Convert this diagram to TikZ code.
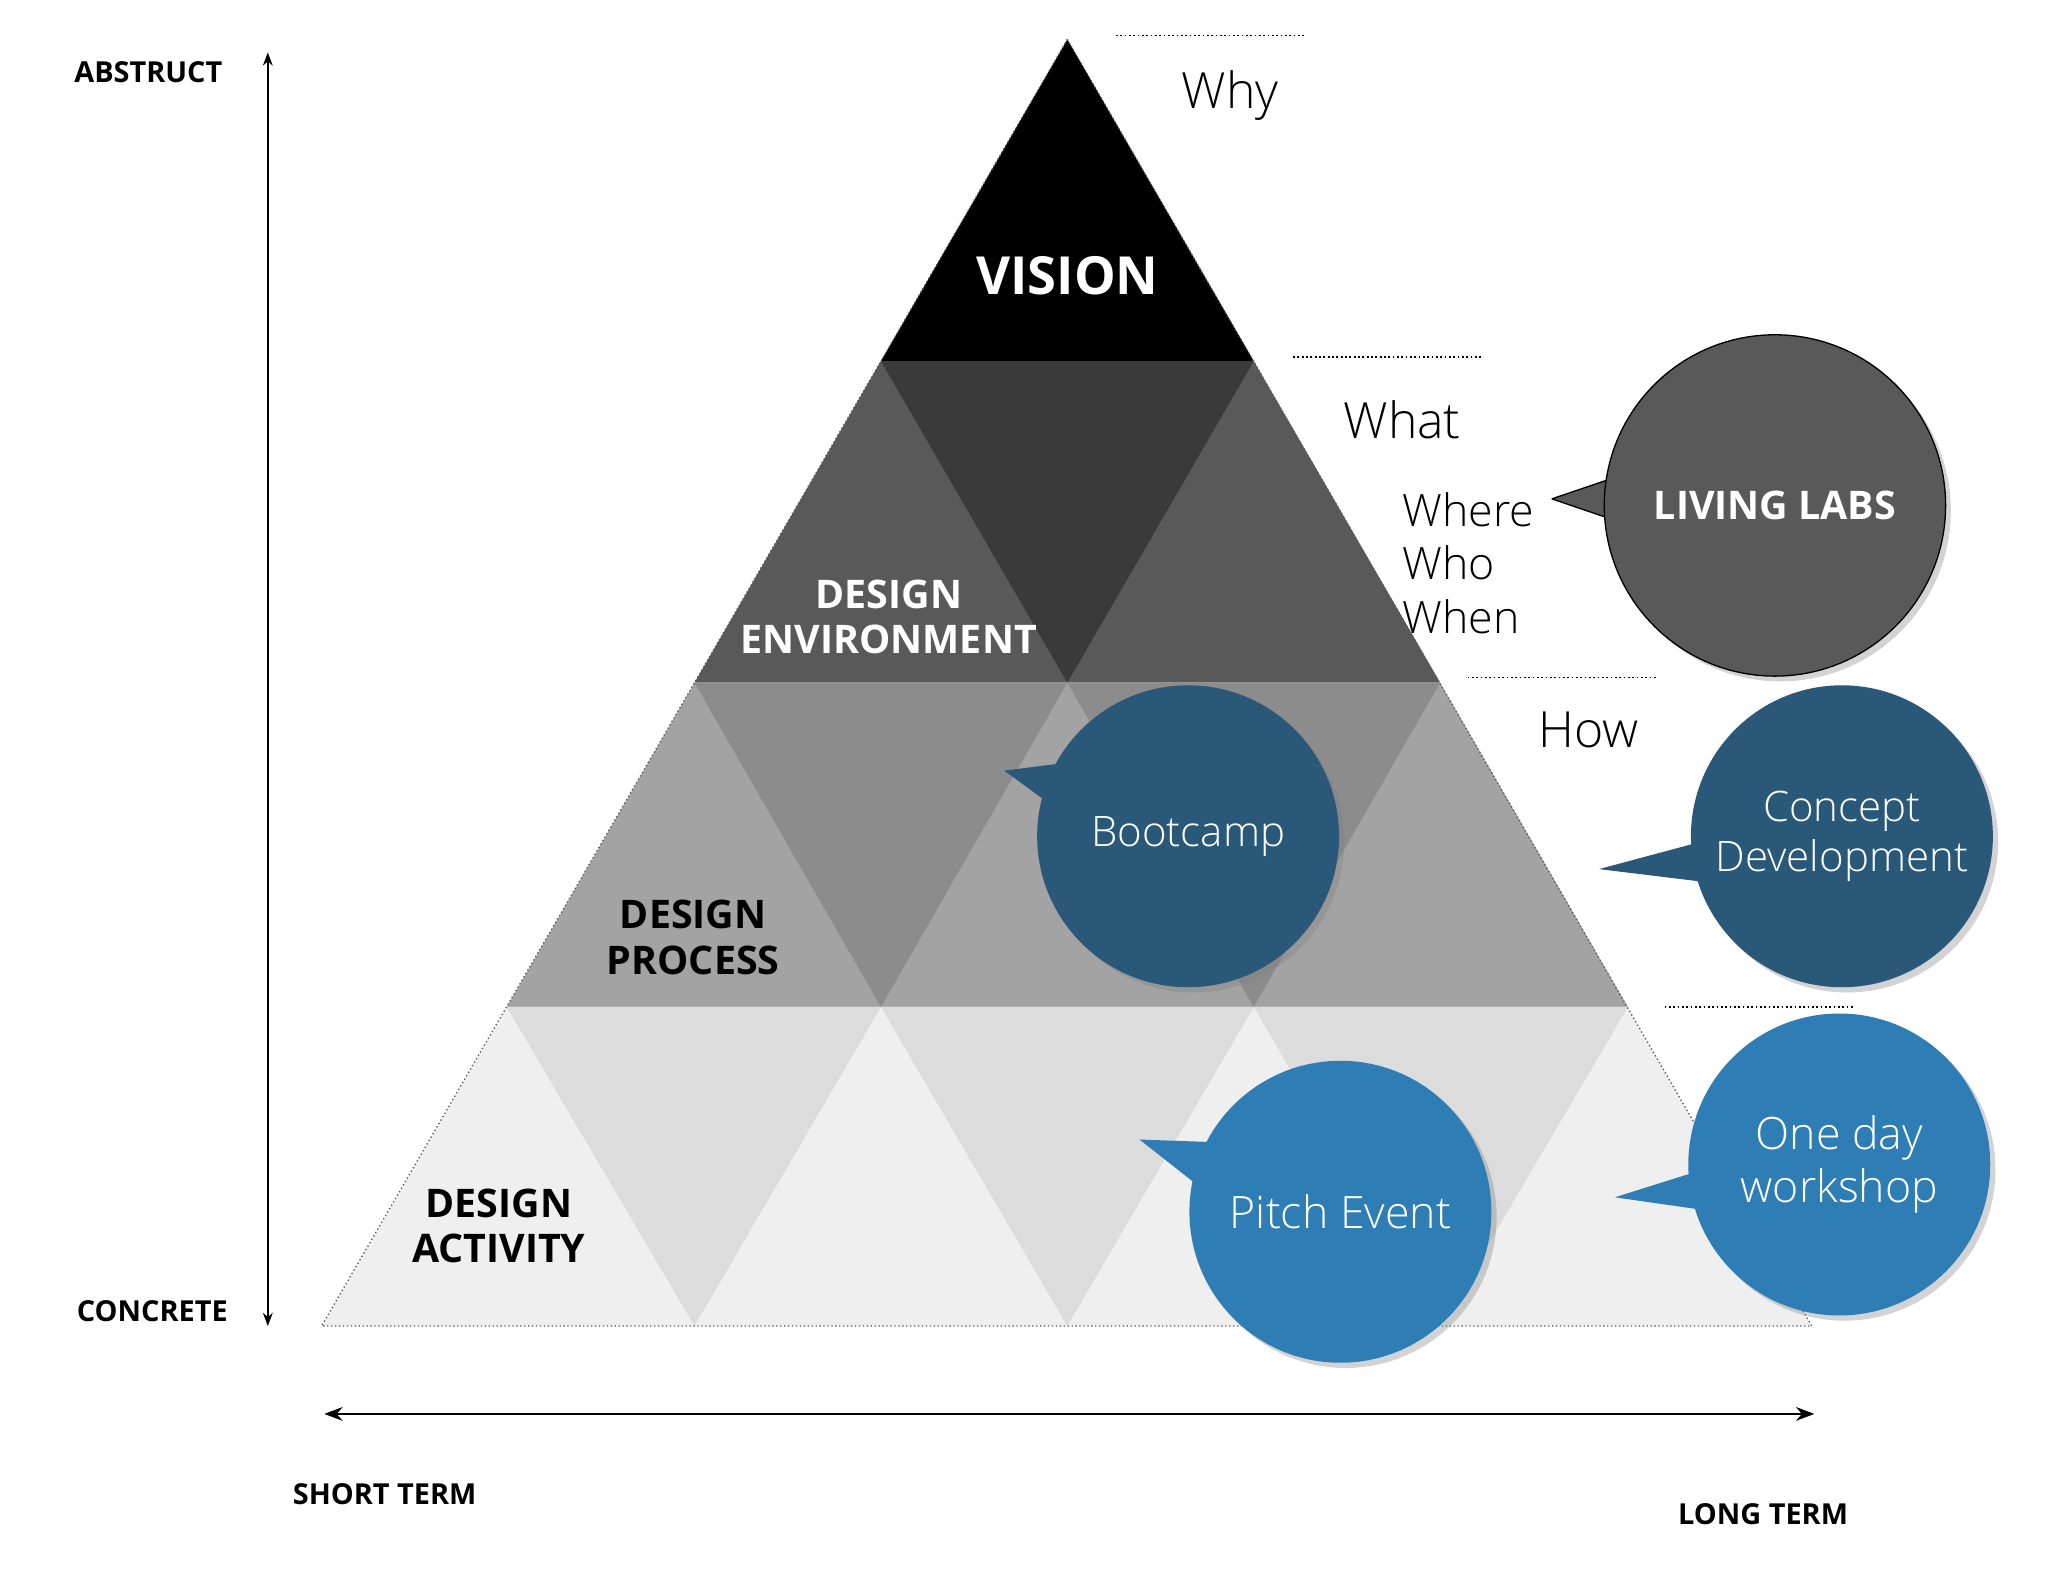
\documentclass[tikz,border=0pt]{standalone}
\usepackage{fontspec}
\setmainfont{Open Sans}
\newfontfamily\lightf{Open Sans Light}
\usetikzlibrary{shadows,arrows.meta}
\definecolor{dk}{HTML}{3A3A3A}
\definecolor{md}{HTML}{595959}
\definecolor{ga}{HTML}{8C8C8C}
\definecolor{gb}{HTML}{A3A3A3}
\definecolor{la}{HTML}{DCDCDC}
\definecolor{lb}{HTML}{EFEFEF}
\definecolor{blA}{HTML}{2A5878}
\definecolor{blB}{HTML}{2E7DB5}
\tikzset{
 bl/.style={font=\bfseries\fontsize{#1}{1.15\dimexpr#1pt\relax}\selectfont,align=center},
 lt/.style={font=\lightf\fontsize{#1}{1.2\dimexpr#1pt\relax}\selectfont},
 dotl/.style={dotted,line width=1.3pt},
 bub/.style={circle,minimum size=#1,inner sep=0pt,drop shadow={opacity=0.35,shadow xshift=4pt,shadow yshift=-4pt},text=white,align=center}
}
\begin{document}
\begin{tikzpicture}[x=1pt,y=-1pt]
\useasboundingbox (0,0) rectangle (1560,1205);
% rows
\fill[black] (813,30)--(955,275)--(671,275)--cycle;
\fill[md] (671,275)--(955,275)--(1097,520)--(529,520)--cycle;
\fill[dk] (671,275)--(955,275)--(813,520)--cycle;
\fill[gb] (529,520)--(1097,520)--(1240,767)--(386,767)--cycle;
\fill[ga] (529,520)--(813,520)--(671,767)--cycle;
\fill[ga] (813,520)--(1097,520)--(955,767)--cycle;
\fill[lb] (386,767)--(1240,767)--(1380,1010)--(245,1010)--cycle;
\fill[la] (386,767)--(671,767)--(529,1010)--cycle;
\fill[la] (671,767)--(955,767)--(813,1010)--cycle;
\fill[la] (955,767)--(1240,767)--(1097,1010)--cycle;
\draw[dotted,line width=1pt,gray!70!black] (813,30)--(1380,1010)--(245,1010)--cycle;
% dotted level marks
\draw[dotl] (850,27)--(995,27);
\draw[dotl] (985,272)--(1130,272);
\draw[dotl] (1118,516)--(1263,516);
\draw[dotl] (1268,767)--(1412,767);
% labels
\node[bl=40,text=white] (vis) at (813,210) {VISION};
\node[bl=30,text=white] (env) at (677,470) {DESIGN\\ENVIRONMENT};
\node[bl=30] (proc) at (528,714) {DESIGN\\PROCESS};
\node[bl=30] (act) at (380,934) {DESIGN\\ACTIVITY};
\node[lt=38] (why) at (937,73) {Why};
\node[lt=38] (what) at (1068,320) {What};
\node[lt=34,anchor=west,align=left] (wh) at (1065,429) {Where\\Who\\When};
\node[lt=38] (how) at (1210,556) {How};
% bubbles
\fill[md] (1182,380)--(1240,360)--(1240,400)--cycle;
\draw[black,line width=1pt] (1182,380)--(1235,362) (1182,380)--(1235,398);
\node[bub=260pt,fill=md,draw=black,line width=1pt,bl=30] (ll) at (1352,385) {LIVING LABS};
\fill[blA] (765,587)--(820,580)--(810,620)--cycle;
\node[bub=230pt,fill=blA,lt=32] (boot) at (905,637) {Bootcamp};
\fill[blA] (1218,662)--(1300,640)--(1300,672)--cycle;
\node[bub=230pt,fill=blA,lt=32] (cd) at (1403,637) {Concept\\Development};
\fill[blB] (868,868)--(925,870)--(915,905)--cycle;
\node[bub=230pt,fill=blB,lt=34] (pe) at (1021,923) {Pitch Event};
\fill[blB] (1230,912)--(1300,890)--(1300,922)--cycle;
\node[bub=230pt,fill=blB,lt=34] (od) at (1401,887) {One day\\workshop};
% axes
\coordinate (a1) at (204,1010); \coordinate (a2) at (204,40);
\draw[{Stealth[length=10pt]}-{Stealth[length=10pt]},line width=1.2pt] (a1)--(a2);
\coordinate (b1) at (247,1077); \coordinate (b2) at (1382,1077);
\draw[{Stealth[length=14pt]}-{Stealth[length=14pt]},line width=1.2pt] (b1)--(b2);
\node[bl=22] (abs) at (113,55) {ABSTRUCT};
\node[bl=22] (con) at (116,999) {CONCRETE};
\node[bl=22] (st) at (293,1138) {SHORT TERM};
\node[bl=22] (ltm) at (1343,1153) {LONG TERM};
\end{tikzpicture}
\end{document}
